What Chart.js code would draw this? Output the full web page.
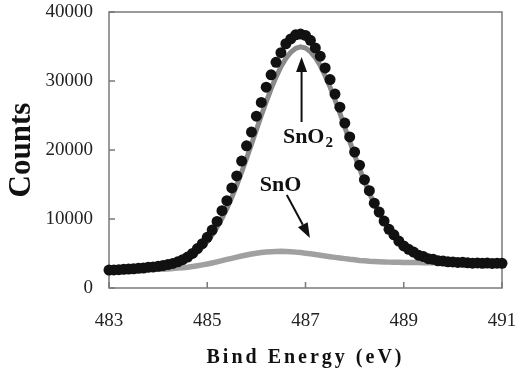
<!DOCTYPE html>
<html>
<head>
<meta charset="utf-8">
<script src="https://cdn.jsdelivr.net/npm/chart.js@4/dist/chart.umd.min.js"></script>
<style>
  html, body { margin: 0; padding: 0; background: #ffffff; }
  canvas { display: block; }
</style>
</head>
<body>
<canvas id="c" width="516" height="376"></canvas>
<script>
// ---- data ----
const energy = [
  483.0,483.1,483.2,483.3,483.4,483.5,483.6,483.7,483.8,483.9,
  484.0,484.1,484.2,484.3,484.4,484.5,484.6,484.7,484.8,484.9,
  485.0,485.1,485.2,485.3,485.4,485.5,485.6,485.7,485.8,485.9,
  486.0,486.1,486.2,486.3,486.4,486.5,486.6,486.7,486.8,486.9,
  487.0,487.1,487.2,487.3,487.4,487.5,487.6,487.7,487.8,487.9,
  488.0,488.1,488.2,488.3,488.4,488.5,488.6,488.7,488.8,488.9,
  489.0,489.1,489.2,489.3,489.4,489.5,489.6,489.7,489.8,489.9,
  490.0,490.1,490.2,490.3,490.4,490.5,490.6,490.7,490.8,490.9,
  491.0
];
const measuredCounts = [
  2600,2620,2650,2700,2740,2790,2860,2900,3010,3060,
  3150,3260,3400,3560,3800,4100,4480,5010,5720,6430,
  7350,8400,9650,11200,12650,14500,16250,18400,20600,22600,
  24900,26900,29100,30900,32700,34100,35400,36100,36700,36800,
  36600,35900,34800,33600,31900,30200,28100,26200,23900,21900,
  19700,17800,15700,14100,12300,11000,9700,8500,7700,6800,
  6100,5600,5200,4750,4550,4250,4150,3950,3900,3800,
  3780,3700,3720,3650,3600,3640,3580,3610,3560,3590,
  3570
];
const sno2Fit = [
  2550,2560,2560,2580,2590,2610,2640,2680,2720,2780,
  2870,2970,3110,3290,3520,3810,4180,4650,5210,5900,
  6710,7690,8800,10100,11530,13140,14880,16780,18780,20830,
  22920,25000,26980,28870,30570,32080,33260,34170,34730,34940,
  34770,34260,33380,32240,30770,29120,27270,25330,23300,21260,
  19260,17310,15460,13760,12200,10820,9560,8500,7560,6780,
  6120,5580,5140,4790,4510,4290,4130,4000,3900,3820,
  3770,3720,3690,3660,3650,3630,3610,3600,3600,3590,
  3580
];
const snoFit = [
  2560,2560,2570,2580,2590,2600,2610,2630,2640,2670,
  2700,2730,2770,2820,2880,2940,3020,3120,3230,3350,
  3480,3630,3790,3960,4140,4300,4470,4630,4780,4920,
  5040,5130,5210,5270,5300,5310,5290,5250,5200,5130,
  5050,4950,4850,4740,4640,4540,4440,4350,4260,4160,
  4080,4000,3940,3880,3840,3800,3770,3750,3730,3720,
  3700,3690,3680,3680,3670,3670,3660,3660,3650,3650,
  3650,3640,3640,3630,3630,3620,3610,3600,3600,3590,
  3580
];
const xTickValues = [483, 485, 487, 489, 491];
const yTickValues = [0, 10000, 20000, 30000, 40000];
const xAxisTitle = 'Bind Energy (eV)';
const yAxisTitle = 'Counts';

// annotation anchors in data units (eV, counts)
const notes = {
  sno2: { label: 'SnO', sub: '2', x: 486.54, y: 21000, from: [486.92, 24060], to: [486.92, 33480] },
  sno:  { label: 'SnO', sub: '',  x: 486.07, y: 14100, from: [486.62, 13480], to: [487.09, 7250] }
};

const serif = "'Liberation Serif', 'Times New Roman', serif";

function toPoints(xs, ys) { return xs.map((x, i) => ({ x: x, y: ys[i] })); }

const framePlugin = {
  id: 'frameAndNotes',
  beforeDraw(chart) {
    const sx = chart.scales.x;
    if (sx && !sx._spacedTitle) {
      const orig = sx.drawTitle;
      sx.drawTitle = function () {
        const ctx = this.ctx;
        ctx.save();
        if ('letterSpacing' in ctx) ctx.letterSpacing = '3px';
        orig.apply(this, arguments);
        ctx.restore();
      };
      sx._spacedTitle = true;
    }
  },
  beforeDatasetsDraw(chart) {
    const { ctx, chartArea: a, scales } = chart;
    ctx.save();
    ctx.strokeStyle = '#7a7a7a';
    ctx.lineWidth = 1.5;
    ctx.strokeRect(a.left, a.top, a.right - a.left, a.bottom - a.top);
    ctx.beginPath();
    xTickValues.forEach(v => {
      const px = scales.x.getPixelForValue(v);
      ctx.moveTo(px, a.bottom);
      ctx.lineTo(px, a.bottom - 6);
    });
    yTickValues.forEach(v => {
      const py = scales.y.getPixelForValue(v);
      ctx.moveTo(a.left, py);
      ctx.lineTo(a.left + 6, py);
    });
    ctx.stroke();
    ctx.restore();
  },
  afterDatasetsDraw(chart) {
    const { ctx, scales } = chart;
    const X = v => scales.x.getPixelForValue(v);
    const Y = v => scales.y.getPixelForValue(v);
    ctx.save();
    ctx.fillStyle = '#111';
    ctx.strokeStyle = '#111';
    Object.values(notes).forEach(n => {
      ctx.font = 'bold 22px ' + serif;
      ctx.textAlign = 'left';
      ctx.textBaseline = 'alphabetic';
      const lx = X(n.x), ly = Y(n.y);
      ctx.fillText(n.label, lx, ly);
      if (n.sub) {
        const w = ctx.measureText(n.label).width;
        ctx.font = 'bold 15px ' + serif;
        ctx.fillText(n.sub, lx + w + 1, ly + 4);
      }
      const x1 = X(n.from[0]), y1 = Y(n.from[1]);
      const x2 = X(n.to[0]), y2 = Y(n.to[1]);
      const ang = Math.atan2(y2 - y1, x2 - x1);
      const headLen = 15, headHalf = 5.5;
      const bx = x2 - headLen * Math.cos(ang), by = y2 - headLen * Math.sin(ang);
      ctx.lineWidth = 2;
      ctx.beginPath();
      ctx.moveTo(x1, y1);
      ctx.lineTo(bx, by);
      ctx.stroke();
      ctx.beginPath();
      ctx.moveTo(x2, y2);
      ctx.lineTo(bx + headHalf * Math.sin(ang), by - headHalf * Math.cos(ang));
      ctx.lineTo(bx - headHalf * Math.sin(ang), by + headHalf * Math.cos(ang));
      ctx.closePath();
      ctx.fill();
    });
    ctx.restore();
  }
};

new Chart(document.getElementById('c'), {
  type: 'scatter',
  data: {
    datasets: [
      {
        label: 'Measured',
        data: toPoints(energy, measuredCounts),
        showLine: false,
        pointRadius: 5.5,
        pointBackgroundColor: '#111111',
        pointBorderWidth: 0,
        pointBorderColor: '#111111',
        clip: 10,
        order: 1
      },
      {
        label: 'SnO2',
        data: toPoints(energy, sno2Fit),
        showLine: true,
        borderColor: '#8a8a8a',
        borderWidth: 5,
        pointRadius: 0,
        fill: false,
        order: 2
      },
      {
        label: 'SnO',
        data: toPoints(energy, snoFit),
        showLine: true,
        borderColor: '#a0a0a0',
        borderWidth: 5.5,
        pointRadius: 0,
        fill: false,
        order: 3
      }
    ]
  },
  options: {
    responsive: false,
    animation: false,
    events: [],
    layout: { padding: { top: 12, right: 14, left: 0, bottom: 0 } },
    plugins: { legend: { display: false }, tooltip: { enabled: false } },
    scales: {
      x: {
        type: 'linear',
        min: 483, max: 491,
        afterBuildTicks: s => { s.ticks = xTickValues.map(v => ({ value: v })); },
        grid: { display: false, drawTicks: false },
        border: { display: false },
        ticks: { font: { family: serif, size: 19 }, color: '#222', padding: 22, maxRotation: 0, autoSkip: false,
                 callback: v => String(v) },
        title: { display: true, text: xAxisTitle, color: '#111',
                 font: { family: serif, size: 20, weight: 'bold' }, padding: { top: 0, bottom: 6 } },
        afterFit: s => { s.height = 88; s.paddingLeft = 0; s.paddingRight = 0; }
      },
      y: {
        type: 'linear',
        min: 0, max: 40000,
        afterBuildTicks: s => { s.ticks = yTickValues.map(v => ({ value: v })); },
        grid: { display: false, drawTicks: false },
        border: { display: false },
        ticks: { font: { family: serif, size: 19 }, color: '#222', padding: 16,
                 callback: v => String(v) },
        title: { display: true, text: yAxisTitle, color: '#111',
                 font: { family: serif, size: 31, weight: 'bold' }, padding: { top: 3, bottom: 0 } },
        afterFit: s => { s.width = 109; s.paddingTop = 0; s.paddingBottom = 0; }
      }
    }
  },
  plugins: [framePlugin]
});
</script>
</body>
</html>
